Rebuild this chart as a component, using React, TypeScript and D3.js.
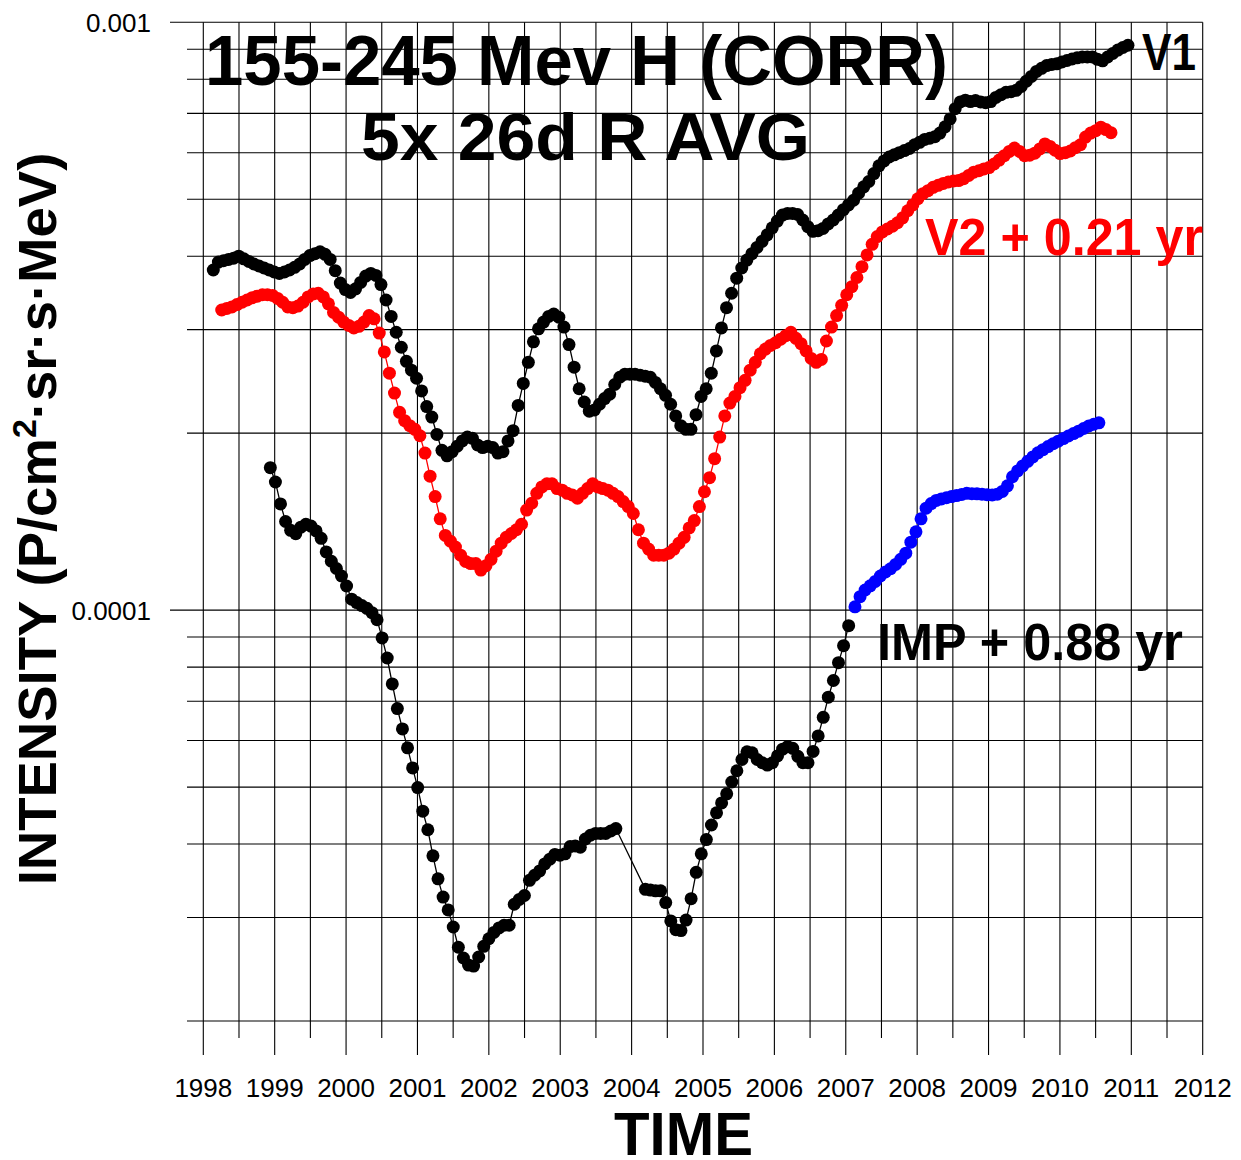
import React from "react";
import * as d3 from "d3";

const FONT = "'Liberation Sans', Arial, Helvetica, sans-serif";
const UNIT = 1e-4; // values below are in units of 1e-4 P/(cm2 sr s MeV)
const STEP_YR = 26 / 365.25; // 26-day cadence

const YEAR_TICKS = [1998, 1999, 2000, 2001, 2002, 2003, 2004, 2005, 2006, 2007, 2008, 2009, 2010, 2011, 2012];
const Y_GRID = [2e-5, 3e-5, 4e-5, 5e-5, 6e-5, 7e-5, 8e-5, 9e-5, 1e-4, 2e-4, 3e-4, 4e-4, 5e-4, 6e-4, 7e-4, 8e-4, 9e-4, 1e-3];
const Y_MAJOR = [1e-4, 1e-3];
const Y_LABELS = ["0.0001", "0.001"];

const V1_START = 1998.14;
const V1 = [
  3.79, 3.91, 3.93, 3.95, 3.97, 4.0, 3.96, 3.92, 3.88, 3.85,
  3.82, 3.79, 3.76, 3.74, 3.76, 3.79, 3.83, 3.88, 3.95, 4.01,
  4.04, 4.07, 4.03, 3.95, 3.78, 3.6, 3.51, 3.47, 3.52, 3.61,
  3.7, 3.74, 3.71, 3.58, 3.37, 3.16, 2.97, 2.8, 2.65, 2.56,
  2.48, 2.36, 2.22, 2.13, 1.99, 1.87, 1.83, 1.86, 1.9, 1.94,
  1.97, 1.96, 1.91, 1.89, 1.9, 1.89, 1.85, 1.86, 1.94, 2.02,
  2.23, 2.43, 2.64, 2.86, 3.01, 3.09, 3.16, 3.19, 3.15, 3.03,
  2.83, 2.59, 2.38, 2.26, 2.18, 2.19, 2.24, 2.29, 2.33, 2.42,
  2.49, 2.52, 2.52, 2.52, 2.51, 2.5, 2.49, 2.44, 2.38, 2.32,
  2.24, 2.14, 2.06, 2.03, 2.03, 2.15, 2.31, 2.38, 2.53, 2.76,
  3.02, 3.27, 3.46, 3.67, 3.82, 3.94, 4.04, 4.14, 4.24, 4.35,
  4.47, 4.59, 4.7, 4.73, 4.73, 4.71, 4.61, 4.49, 4.41, 4.42,
  4.46, 4.54, 4.61, 4.7, 4.8, 4.89, 4.98, 5.12, 5.25, 5.36,
  5.53, 5.7, 5.81, 5.9, 5.95, 6.0, 6.05, 6.1, 6.19, 6.25,
  6.32, 6.35, 6.39, 6.48, 6.64, 6.85, 7.13, 7.32, 7.37, 7.33,
  7.36, 7.32, 7.3, 7.33, 7.45, 7.53, 7.6, 7.62, 7.66, 7.78,
  7.94, 8.09, 8.25, 8.35, 8.44, 8.48, 8.5, 8.56, 8.61, 8.66,
  8.7, 8.73, 8.73, 8.73, 8.65, 8.6, 8.73, 8.85, 8.97, 9.06, 9.14,
];

const V2_START = 1998.258;
const V2 = [
  3.24, 3.26, 3.28, 3.31, 3.34, 3.37, 3.4, 3.42, 3.44, 3.44,
  3.43, 3.39, 3.34, 3.28, 3.27, 3.29, 3.34, 3.41, 3.45, 3.46,
  3.41, 3.32, 3.21, 3.15, 3.09, 3.05, 3.02, 3.04, 3.09, 3.17,
  3.13, 2.96, 2.75, 2.53, 2.34, 2.17, 2.1, 2.06, 2.03, 1.98,
  1.85, 1.69, 1.56, 1.43, 1.34, 1.31, 1.28, 1.24, 1.21, 1.2,
  1.2, 1.17, 1.19, 1.22, 1.26, 1.3, 1.33, 1.35, 1.37, 1.4,
  1.48, 1.52, 1.58, 1.62, 1.64, 1.64, 1.61, 1.6, 1.58, 1.57,
  1.55, 1.58, 1.61, 1.64, 1.62, 1.61, 1.6, 1.58, 1.56, 1.53,
  1.5, 1.46, 1.37, 1.3, 1.27, 1.24, 1.24, 1.24, 1.25, 1.27,
  1.3, 1.33, 1.38, 1.42, 1.5, 1.59, 1.68, 1.81, 1.97, 2.14,
  2.25, 2.31, 2.39, 2.46, 2.56, 2.64, 2.73, 2.78, 2.82, 2.85,
  2.89, 2.93, 2.97, 2.9, 2.84, 2.76, 2.68, 2.64, 2.67, 2.87,
  3.03, 3.17, 3.3, 3.44, 3.55, 3.68, 3.84, 4.02, 4.19, 4.32,
  4.4, 4.45, 4.5, 4.56, 4.65, 4.78, 4.89, 5.01, 5.11, 5.17,
  5.24, 5.28, 5.32, 5.35, 5.37, 5.38, 5.42, 5.49, 5.56, 5.59,
  5.63, 5.66, 5.74, 5.83, 5.93, 6.03, 6.11, 6.03, 5.93, 5.94,
  5.99, 6.09, 6.21, 6.15, 6.06, 5.98, 6.0, 6.04, 6.12, 6.19,
  6.38, 6.48, 6.54, 6.63, 6.57, 6.49,
];

const IMP_A_START = 1998.939;
const IMP_A = [
  1.747, 1.652, 1.516, 1.415, 1.367, 1.349, 1.384, 1.4, 1.39, 1.364,
  1.325, 1.256, 1.211, 1.177, 1.143, 1.099, 1.044, 1.03, 1.018, 1.007,
  0.99, 0.963, 0.897, 0.829, 0.749, 0.68, 0.628, 0.583, 0.539, 0.499,
  0.455, 0.423, 0.382, 0.349, 0.325, 0.309, 0.289, 0.267, 0.256, 0.249,
  0.248, 0.257, 0.268, 0.276, 0.283, 0.288, 0.291, 0.291, 0.316, 0.322,
  0.327, 0.347, 0.354, 0.36, 0.37, 0.377, 0.384, 0.383, 0.385, 0.396,
  0.397, 0.395, 0.408, 0.414, 0.417, 0.417, 0.417, 0.421, 0.425,
];

const IMP_B_START = 2004.193;
const IMP_B = [
  0.335, 0.334, 0.333, 0.333, 0.318, 0.296, 0.286, 0.285, 0.297, 0.323,
  0.358, 0.385, 0.407, 0.431, 0.452, 0.47, 0.487, 0.51, 0.533, 0.557,
  0.574, 0.572, 0.557, 0.55, 0.545, 0.55, 0.565, 0.58, 0.586, 0.582,
  0.564, 0.55, 0.55, 0.575, 0.611, 0.657, 0.711, 0.759, 0.814, 0.87, 0.941,
];

const BLUE_START = 2007.129;
const BLUE = [
  1.013, 1.054, 1.082, 1.1, 1.119, 1.143, 1.161, 1.176, 1.196, 1.22,
  1.25, 1.305, 1.359, 1.43, 1.491, 1.518, 1.537, 1.546, 1.553, 1.56,
  1.566, 1.573, 1.58, 1.578, 1.577, 1.575, 1.572, 1.57, 1.575, 1.592,
  1.627, 1.686, 1.725, 1.759, 1.791, 1.822, 1.852, 1.875, 1.898, 1.919,
  1.938, 1.958, 1.978, 1.997, 2.016, 2.037, 2.057, 2.071, 2.083,
];

type Pt = { t: number; v: number };
const toPts = (start: number, vals: number[]): Pt[] =>
  vals.map((v, i) => ({ t: start + i * STEP_YR, v: v * UNIT }));

const W = 1241;
const H = 1160;
const X0 = 203.3;
const X1 = 1202.7;
const YTOP = 22.3;
const YBOT = 1021;

export default function App() {
  const x = d3.scaleLinear().domain([1998, 2012]).range([X0, X1]);
  const y = d3.scaleLog().domain([2e-5, 1e-3]).range([YBOT, YTOP]);
  const line = d3
    .line<Pt>()
    .x((d) => x(d.t))
    .y((d) => y(d.v));

  const series = [
    { pts: toPts(V1_START, V1), color: "#000000" },
    { pts: [...toPts(IMP_A_START, IMP_A), ...toPts(IMP_B_START, IMP_B)], color: "#000000" },
    { pts: toPts(V2_START, V2), color: "#ff0000" },
    { pts: toPts(BLUE_START, BLUE), color: "#0000ff" },
  ];

  const halfYears = d3.range(0, 29).map((i) => 1998 + i * 0.5);

  return (
    <svg
      width={W}
      height={H}
      style={{ position: "absolute", left: 0, top: 0, background: "#fff" }}
      fontFamily={FONT}
    >
      <rect x={0} y={0} width={W} height={H} fill="#fff" />
      {Y_GRID.map((v) => (
        <line
          key={"h" + v}
          x1={Y_MAJOR.includes(v) ? 170 : 187}
          x2={X1}
          y1={y(v)}
          y2={y(v)}
          stroke="#000"
          strokeWidth={1.1}
        />
      ))}
      {halfYears.map((t) => {
        const major = Math.abs(t - Math.round(t)) < 1e-6;
        return (
          <line
            key={"v" + t}
            x1={x(t)}
            x2={x(t)}
            y1={YTOP}
            y2={major ? 1055 : 1038}
            stroke="#000"
            strokeWidth={1.1}
          />
        );
      })}
      {Y_MAJOR.map((v, i) => (
        <text key={"yl" + v} x={151} y={y(v) + 9.5} fontSize={26} textAnchor="end" fill="#000">
          {Y_LABELS[i]}
        </text>
      ))}
      {YEAR_TICKS.map((yr) => (
        <text key={"xl" + yr} x={x(yr)} y={1096.5} fontSize={26} textAnchor="middle" fill="#000">
          {yr}
        </text>
      ))}
      {series.map((s, i) => (
        <g key={"s" + i}>
          <path d={line(s.pts) || ""} fill="none" stroke={s.color} strokeWidth={1.3} />
          {s.pts.map((p, j) => (
            <circle key={j} cx={x(p.t)} cy={y(p.v)} r={6.5} fill={s.color} />
          ))}
        </g>
      ))}
      <text x={205} y={85} fontSize={71} fontWeight="bold" textLength={743} lengthAdjust="spacingAndGlyphs">
        155-245 Mev H (CORR)
      </text>
      <text x={361} y={160} fontSize={66} fontWeight="bold" textLength={449} lengthAdjust="spacingAndGlyphs">
        5x 26d R AVG
      </text>
      <text x={1142} y={70} fontSize={51} fontWeight="bold" textLength={54} lengthAdjust="spacingAndGlyphs">
        V1
      </text>
      <text x={925} y={255} fontSize={51} fontWeight="bold" fill="#ff0000" textLength={278} lengthAdjust="spacingAndGlyphs">
        V2 + 0.21 yr
      </text>
      <text x={877} y={660} fontSize={51} fontWeight="bold" textLength={306} lengthAdjust="spacingAndGlyphs">
        IMP + 0.88 yr
      </text>
      <text x={614} y={1155} fontSize={62} fontWeight="bold" textLength={139} lengthAdjust="spacingAndGlyphs">
        TIME
      </text>
      <text
        transform="translate(56, 519) rotate(-90)"
        fontSize={54.5}
        fontWeight="bold"
        textAnchor="middle"
      >
        INTENSITY (P/cm
        <tspan fontSize={34} dy={-20}>2</tspan>
        <tspan dy={20}>·sr·s·MeV)</tspan>
      </text>
    </svg>
  );
}
